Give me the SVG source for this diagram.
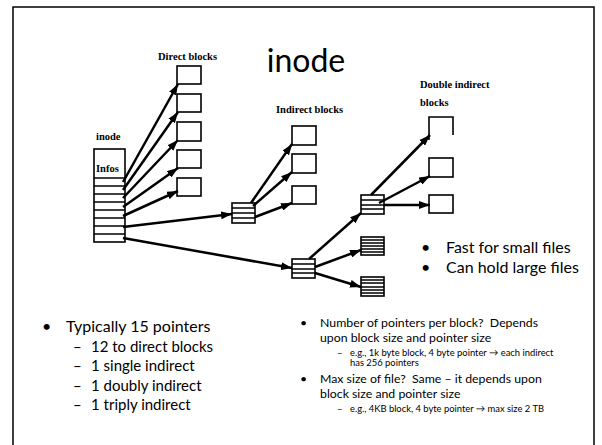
<svg xmlns="http://www.w3.org/2000/svg" width="602" height="445" viewBox="0 0 602 445">
  <defs>
    <marker id="arrow" markerUnits="userSpaceOnUse" markerWidth="12" markerHeight="8" refX="11" refY="4" orient="auto">
      <path d="M0,0 L11,4 L0,8 Z" fill="#000"/>
    </marker>
    <style>
      .blk { fill: #fff; stroke: #000; stroke-width: 1.6; }
      .row { stroke: #000; stroke-width: 1.3; }
      .ptr { stroke: #000; stroke-width: 2.5; fill: none; marker-end: url(#arrow); }
      .lbl { font-family: "Liberation Serif", "Times New Roman", serif; font-weight: bold; font-size: 10.5px; fill: #000; }
      .sans { font-family: Lato, "Open Sans", "Liberation Sans", sans-serif; fill: #000; }
    </style>
  </defs>

  <rect width="602" height="445" fill="#fff"/>
  <!-- slide frame -->
  <path d="M13,450 V7 H594 V450" fill="none" stroke="#000" stroke-width="1.5"/>

  <text class="sans" x="306" y="72" font-size="32" text-anchor="middle">inode</text>

  <!-- inode table -->
  <g id="inode">
    <text class="lbl" x="96" y="140">inode</text>
    <rect class="blk" x="94" y="149" width="31" height="93"/>
    <text class="lbl" x="96" y="172" font-size="12">Infos</text>
    <path class="row" d="M94,178 H125 M94,186 H125 M94,194 H125 M94,202 H125 M94,210 H125 M94,218 H125 M94,226 H125 M94,234 H125"/>
  </g>

  <!-- direct data blocks -->
  <g id="direct-blocks">
    <text class="lbl" x="158" y="60">Direct blocks</text>
    <rect class="blk" x="177" y="66" width="24" height="18"/>
    <rect class="blk" x="177" y="94" width="24" height="18"/>
    <rect class="blk" x="177" y="122" width="24" height="19"/>
    <rect class="blk" x="177" y="150" width="24" height="18"/>
    <rect class="blk" x="177" y="178" width="24" height="18"/>
  </g>

  <!-- single indirect block -->
  <g id="single-indirect">
    <rect class="blk" x="232" y="203" width="23" height="20"/>
    <path class="row" d="M232,208 H255 M232,213 H255 M232,218 H255"/>
  </g>

  <g id="indirect-blocks">
    <text class="lbl" x="276" y="113">Indirect blocks</text>
    <rect class="blk" x="292" y="126" width="24" height="19"/>
    <rect class="blk" x="292" y="154" width="24" height="19"/>
    <rect class="blk" x="292" y="186" width="24" height="18"/>
  </g>

  <!-- double indirect block -->
  <g id="double-indirect">
    <rect class="blk" x="292" y="259" width="23" height="19"/>
    <path class="row" d="M292,264 H315 M292,269 H315 M292,273 H315"/>
  </g>

  <g id="second-level-a">
    <rect class="blk" x="361" y="195" width="23" height="19"/>
    <path class="row" d="M361,200 H384 M361,205 H384 M361,209 H384"/>
  </g>
  <g id="second-level-b">
    <rect class="blk" x="361" y="237" width="23" height="18"/>
    <path class="row" d="M361,240 H384 M361,243 H384 M361,246 H384 M361,249 H384 M361,252 H384"/>
  </g>
  <g id="second-level-c">
    <rect class="blk" x="361" y="277" width="23" height="19"/>
    <path class="row" d="M361,280 H384 M361,283 H384 M361,287 H384 M361,290 H384 M361,293 H384"/>
  </g>

  <g id="double-indirect-blocks">
    <text class="lbl" x="420" y="88">Double indirect</text>
    <text class="lbl" x="420" y="106">blocks</text>
    <path d="M429,140 V117 H453 V135" fill="none" stroke="#000" stroke-width="1.6"/>
    <rect class="blk" x="429" y="158" width="24" height="19"/>
    <rect class="blk" x="429" y="195" width="24" height="18"/>
  </g>

  <!-- pointers -->
  <g id="connectors">
    <line class="ptr" x1="123" y1="182" x2="178" y2="84"/>
    <line class="ptr" x1="123" y1="190" x2="178" y2="112"/>
    <line class="ptr" x1="123" y1="198" x2="178" y2="140"/>
    <line class="ptr" x1="123" y1="207" x2="178" y2="168"/>
    <line class="ptr" x1="123" y1="216" x2="178" y2="191"/>
    <line class="ptr" x1="123" y1="227" x2="232" y2="214"/>
    <line class="ptr" x1="123" y1="238" x2="292" y2="268"/>

    <line class="ptr" x1="251" y1="203" x2="292" y2="144"/>
    <line class="ptr" x1="253" y1="206" x2="292" y2="172"/>
    <line class="ptr" x1="255" y1="217" x2="292" y2="203"/>

    <line class="ptr" x1="309" y1="259" x2="361" y2="213"/>
    <line class="ptr" x1="315" y1="267" x2="361" y2="250"/>
    <line class="ptr" x1="315" y1="273" x2="361" y2="287"/>

    <line class="ptr" x1="371" y1="195" x2="430" y2="135"/>
    <line class="ptr" x1="379" y1="203" x2="430" y2="176"/>
    <line class="ptr" x1="384" y1="205" x2="430" y2="205"/>
  </g>

  <!-- notes -->
  <g class="sans" font-size="16">
    <text x="421" y="253">•</text>
    <text x="446" y="253">Fast for small files</text>
    <text x="421" y="273">•</text>
    <text x="446" y="273">Can hold large files</text>
  </g>

  <g class="sans">
    <text x="42" y="332" font-size="16">•</text>
    <text x="66" y="332" font-size="16">Typically 15 pointers</text>
    <g font-size="15">
      <text x="73" y="352">–</text><text x="91" y="352">12 to direct blocks</text>
      <text x="73" y="371">–</text><text x="91" y="371">1 single indirect</text>
      <text x="73" y="391">–</text><text x="91" y="391">1 doubly indirect</text>
      <text x="73" y="410">–</text><text x="91" y="410">1 triply indirect</text>
    </g>
  </g>

  <g class="sans">
    <g font-size="12.3">
      <text x="300" y="327">•</text>
      <text x="320" y="327" xml:space="preserve">Number of pointers per block?  Depends</text>
      <text x="320" y="342">upon block size and pointer size</text>
      <text x="300" y="383">•</text>
      <text x="320" y="383" xml:space="preserve">Max size of file?  Same – it depends upon</text>
      <text x="320" y="398">block size and pointer size</text>
    </g>
    <g font-size="9.4">
      <text x="337" y="356">–</text>
      <text x="350" y="356">e.g., 1k byte block, 4 byte pointer → each indirect</text>
      <text x="350" y="366">has 256 pointers</text>
      <text x="337" y="412">–</text>
      <text x="350" y="412">e.g., 4KB block, 4 byte pointer → max size 2 TB</text>
    </g>
  </g>
</svg>
